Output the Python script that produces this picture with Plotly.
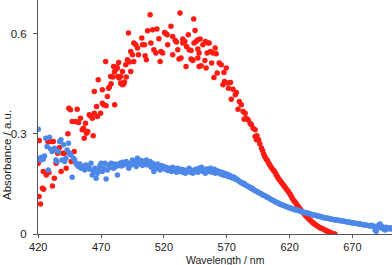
import plotly.graph_objects as go

# ---- data ----
red_wl = [420.0, 420.8, 420.6, 421.8, 423.3, 424.3, 424.0, 426.4, 428.5, 427.6, 429.0, 430.4, 432.0,
          431.3, 432.8, 434.2, 435.5, 436.9, 438.2, 439.6, 440.8, 442.2, 443.6, 444.8, 446.2, 448.6,
          444.3, 445.6, 447.0, 449.6, 451.0, 452.0, 453.6, 455.0, 456.0, 457.6, 458.4, 459.4, 460.6,
          456.6, 461.5, 463.0, 463.7, 464.6, 464.6, 466.4, 467.0, 467.7, 469.6, 471.0, 471.0, 472.0,
          473.6, 474.0, 475.0, 476.0, 476.6, 477.6, 478.0, 479.3, 480.0, 480.6, 480.8, 481.6, 482.0,
          483.0, 483.4, 484.0, 484.3, 485.6, 485.6, 486.0, 487.0, 487.3, 488.0, 488.6, 489.6, 490.0,
          491.0, 491.8, 492.7, 493.6, 493.6, 495.0, 496.0, 496.0, 497.6, 499.0, 499.7, 502.4, 503.0,
          504.6, 505.0, 506.0, 507.0, 509.0, 509.6, 511.0, 512.0, 513.6, 514.4, 516.0, 517.0, 517.6,
          519.0, 520.5, 521.6, 522.6, 523.0, 525.6, 527.0, 527.0, 529.0, 530.0, 531.0, 532.0, 532.8,
          533.6, 535.0, 535.0, 536.6, 537.6, 538.0, 539.4, 540.0, 541.6, 541.6, 543.0, 543.0, 543.7,
          544.0, 544.8, 545.6, 547.0, 547.0, 547.0, 548.0, 548.0, 548.8, 549.6, 551.0, 552.6, 553.0,
          553.6, 554.4, 555.0, 556.0, 557.0, 558.0, 559.0, 559.8, 560.8, 561.6, 562.4, 564.0, 565.6,
          567.0, 567.8, 568.2, 569.6, 571.0, 571.4, 573.0, 573.6, 575.0, 576.8, 577.6, 579.0, 580.0,
          581.6, 583.0, 583.8, 584.6, 585.6, 587.0, 588.6, 589.6, 591.0, 592.6, 592.6, 593.6, 594.0,
          595.4, 596.3, 597.6, 598.5, 599.4, 600.3, 601.3, 602.3, 603.3, 604.3, 605.3, 606.3, 607.3,
          608.3, 609.3, 610.2, 611.0, 612.0, 613.0, 614.0, 615.0, 616.0, 617.0, 618.0, 619.0, 620.0,
          621.0, 622.0, 623.0, 624.0, 625.0, 626.0, 627.0, 628.0, 629.0, 630.0, 631.0, 632.3, 633.3,
          634.3, 635.3, 636.5, 637.6, 638.6, 639.6, 640.6, 641.8, 643.0, 644.2, 645.4, 646.6, 647.8,
          649.0, 650.2, 651.4, 652.6, 653.8, 655.0, 656.0]
red_abs = [0.212, 0.280, 0.112, 0.090, 0.137, 0.134, 0.187, 0.177, 0.184, 0.277, 0.277, 0.277, 0.277,
           0.144, 0.167, 0.212, 0.242, 0.259, 0.187, 0.242, 0.242, 0.197, 0.300, 0.242, 0.217, 0.247,
           0.377, 0.372, 0.337, 0.337, 0.374, 0.334, 0.347, 0.312, 0.317, 0.332, 0.302, 0.307, 0.357,
           0.287, 0.354, 0.347, 0.294, 0.362, 0.427, 0.382, 0.352, 0.462, 0.362, 0.392, 0.432, 0.387,
           0.517, 0.384, 0.412, 0.437, 0.440, 0.472, 0.450, 0.470, 0.502, 0.485, 0.387, 0.492, 0.500,
           0.497, 0.472, 0.514, 0.467, 0.452, 0.472, 0.450, 0.487, 0.447, 0.450, 0.455, 0.507, 0.470,
           0.522, 0.602, 0.515, 0.487, 0.547, 0.537, 0.517, 0.572, 0.567, 0.557, 0.537, 0.587, 0.567,
           0.567, 0.534, 0.522, 0.609, 0.657, 0.572, 0.612, 0.552, 0.542, 0.614, 0.585, 0.517, 0.547,
           0.542, 0.604, 0.600, 0.597, 0.567, 0.622, 0.592, 0.537, 0.580, 0.575, 0.552, 0.524, 0.662,
           0.527, 0.584, 0.572, 0.577, 0.502, 0.562, 0.597, 0.552, 0.524, 0.550, 0.520, 0.522, 0.644,
           0.572, 0.610, 0.577, 0.582, 0.554, 0.527, 0.542, 0.502, 0.584, 0.504, 0.567, 0.520, 0.577,
           0.497, 0.542, 0.572, 0.572, 0.547, 0.512, 0.542, 0.469, 0.557, 0.540, 0.482, 0.512, 0.507,
           0.447, 0.484, 0.457, 0.497, 0.452, 0.437, 0.454, 0.404, 0.434, 0.417, 0.424, 0.374, 0.397,
           0.387, 0.367, 0.344, 0.362, 0.347, 0.342, 0.332, 0.327, 0.317, 0.312, 0.292, 0.282, 0.294,
           0.282, 0.270, 0.258, 0.250, 0.240, 0.232, 0.225, 0.220, 0.213, 0.207, 0.200, 0.195, 0.190,
           0.186, 0.178, 0.172, 0.167, 0.162, 0.157, 0.152, 0.147, 0.142, 0.137, 0.132, 0.127, 0.121,
           0.115, 0.108, 0.102, 0.097, 0.092, 0.087, 0.082, 0.077, 0.071, 0.067, 0.063, 0.057, 0.053,
           0.049, 0.045, 0.041, 0.037, 0.034, 0.031, 0.028, 0.025, 0.022, 0.019, 0.017, 0.015, 0.013,
           0.010, 0.008, 0.006, 0.004, 0.002, 0.001, 0.000]

blue_start_wl = 420  # 1 nm sampling
blue_abs = [0.314, 0.227, 0.222, 0.230, 0.224, 0.234, 0.287, 0.262, 0.192, 0.290,
            0.254, 0.247, 0.252, 0.257, 0.222, 0.217, 0.247, 0.277, 0.282, 0.222,
            0.267, 0.217, 0.227, 0.252, 0.272, 0.242, 0.237, 0.170, 0.227, 0.222,
            0.212, 0.207, 0.202, 0.210, 0.197, 0.204, 0.200, 0.192, 0.207, 0.199,
            0.202, 0.194, 0.212, 0.177, 0.187, 0.197, 0.167, 0.182, 0.192, 0.204,
            0.212, 0.187, 0.197, 0.212, 0.165, 0.192, 0.207, 0.199, 0.212, 0.204,
            0.197, 0.210, 0.202, 0.177, 0.207, 0.212, 0.204, 0.215, 0.207, 0.212,
            0.217, 0.210, 0.197, 0.212, 0.207, 0.222, 0.212, 0.217, 0.202, 0.227,
            0.215, 0.210, 0.220, 0.205, 0.217, 0.212, 0.222, 0.207, 0.215, 0.217,
            0.200, 0.212, 0.187, 0.205, 0.197, 0.210, 0.200, 0.192, 0.205, 0.197,
            0.202, 0.194, 0.199, 0.190, 0.197, 0.192, 0.187, 0.200, 0.192, 0.195,
            0.185, 0.197, 0.190, 0.187, 0.194, 0.185, 0.192, 0.182, 0.190, 0.187,
            0.197, 0.185, 0.190, 0.182, 0.192, 0.187, 0.195, 0.185, 0.197, 0.190,
            0.200, 0.187, 0.192, 0.182, 0.195, 0.192, 0.187, 0.197, 0.185, 0.190,
            0.194, 0.182, 0.190, 0.185, 0.187, 0.180, 0.185, 0.177, 0.182, 0.175,
            0.180, 0.172, 0.177, 0.170, 0.172, 0.167, 0.170, 0.164, 0.165, 0.160,
            0.158, 0.155, 0.154, 0.150, 0.151, 0.146, 0.145, 0.142, 0.141, 0.137,
            0.138, 0.133, 0.131, 0.129, 0.127, 0.125, 0.123, 0.121, 0.119, 0.116,
            0.115, 0.113, 0.110, 0.109, 0.106, 0.104, 0.102, 0.100, 0.098, 0.096,
            0.094, 0.093, 0.090, 0.089, 0.087, 0.086, 0.084, 0.083, 0.081, 0.080,
            0.078, 0.078, 0.076, 0.075, 0.073, 0.073, 0.071, 0.071, 0.069, 0.068,
            0.066, 0.066, 0.064, 0.064, 0.062, 0.062, 0.060, 0.059, 0.058, 0.057,
            0.056, 0.056, 0.054, 0.053, 0.053, 0.051, 0.051, 0.049, 0.049, 0.048,
            0.047, 0.047, 0.045, 0.045, 0.044, 0.043, 0.043, 0.042, 0.042, 0.041,
            0.040, 0.040, 0.039, 0.038, 0.038, 0.037, 0.036, 0.036, 0.035, 0.034,
            0.034, 0.033, 0.032, 0.032, 0.031, 0.030, 0.031, 0.029, 0.028, 0.028,
            0.027, 0.026, 0.026, 0.025, 0.024, 0.026, 0.023, 0.024, 0.012, 0.008,
            0.020, 0.027, 0.030, 0.018, 0.022, 0.014, 0.012, 0.020, 0.016, 0.019,
            0.015, 0.018, 0.016, 0.014]
blue_wl = [blue_start_wl + i for i in range(len(blue_abs))]

x_ticks = [420, 470, 520, 570, 620, 670]
y_ticks = [0, 0.3, 0.6]
y_tick_text = ["0", "0.3", "0.6"]
x_title = "Wavelength / nm"
y_title = "Absorbance / a.u."

RED = "#ff1a12"
BLUE = "#4d88e8"
FONT = "Liberation Sans, Arial, sans-serif"

fig = go.Figure()
fig.add_trace(go.Scatter(x=red_wl, y=red_abs, mode="markers",
                         marker=dict(color=RED, size=5.5, line=dict(width=0)),
                         showlegend=False, cliponaxis=True))
fig.add_trace(go.Scatter(x=blue_wl, y=blue_abs, mode="markers",
                         marker=dict(color=BLUE, size=5.5, line=dict(width=0)),
                         showlegend=False, cliponaxis=True))

fig.update_layout(
    width=392, height=265,
    margin=dict(l=38, r=0, t=0, b=31, pad=0),
    paper_bgcolor="white", plot_bgcolor="white",
    font=dict(family=FONT, size=11.5, color="#222"),
    xaxis=dict(range=[419.8, 701.5], tickvals=x_ticks, ticks="outside", ticklen=3,
               tickcolor="#555", showline=True, linecolor="#555", linewidth=1,
               showgrid=False, zeroline=False, tickfont=dict(size=11, color="#222")),
    yaxis=dict(range=[0, 0.701], tickvals=y_ticks, ticktext=y_tick_text, ticks="outside",
               ticklen=4, tickcolor="#555", showline=True, linecolor="#555", linewidth=1,
               ticklabelstandoff=4,
               showgrid=False, zeroline=False, tickfont=dict(size=11.5, color="#222")),
    annotations=[
        dict(text=x_title, xref="paper", yref="paper", x=(225 - 38) / 354, y=(234 - 259.5) / 234,
             xanchor="center", yanchor="middle", showarrow=False,
             font=dict(size=10.5, color="#222", family=FONT)),
        dict(text=y_title, xref="paper", yref="paper", x=(7 - 38) / 354, y=(234 - 155) / 234,
             xanchor="center", yanchor="middle", textangle=-90, showarrow=False,
             font=dict(size=11.5, color="#222", family=FONT)),
    ],
)

fig.write_html("out.html", config={"displayModeBar": False},
               post_script="document.body.style.margin='0px';document.body.style.padding='0px';")
